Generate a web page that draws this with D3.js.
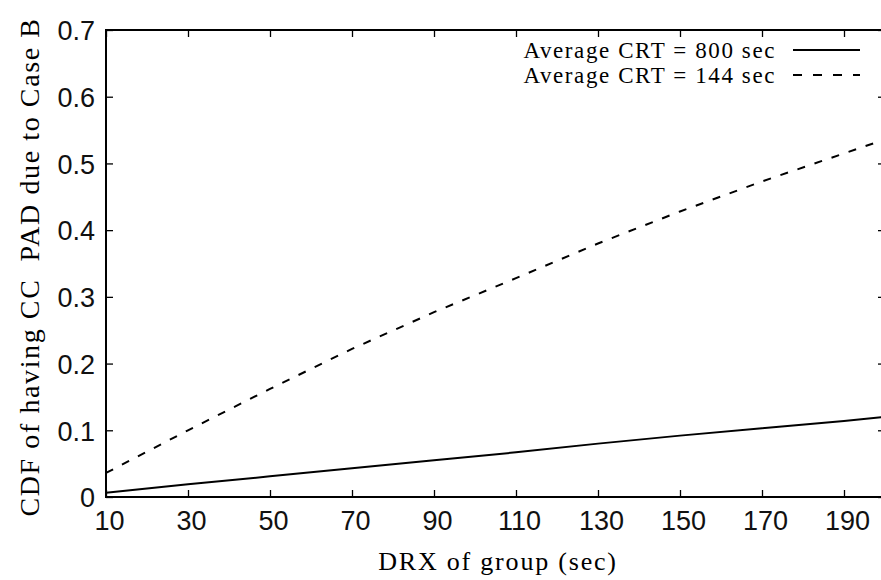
<!DOCTYPE html>
<html>
<head>
<meta charset="utf-8">
<script src="https://cdn.jsdelivr.net/npm/d3@7"></script>
<style>
  body { margin: 0; background: #fff; }
  svg { display: block; }
</style>
</head>
<body>
<svg id="chart" width="881" height="580"></svg>
<script>
//chart values
const drx = [10, 30, 50, 70, 90, 110, 130, 150, 170, 190, 200];
const crt800 = [0.0065, 0.019, 0.031, 0.043, 0.055, 0.067, 0.080, 0.092, 0.103, 0.114, 0.120];
const crt144 = [0.036, 0.100, 0.162, 0.222, 0.277, 0.328, 0.380, 0.428, 0.473, 0.515, 0.536];
const xTicks = [10, 30, 50, 70, 90, 110, 130, 150, 170, 190];
const yTicks = [0, 0.1, 0.2, 0.3, 0.4, 0.5, 0.6, 0.7];
const series = [
  { name: "Average CRT = 800 sec", values: crt800, dash: null },
  { name: "Average CRT = 144 sec", values: crt144, dash: "8,10" }
];

//plot box
const boxLeft = 106, boxRight = 885, boxTop = 30, boxBottom = 497;
const svg = d3.select("#chart");

const x = d3.scaleLinear().domain([10, 200]).range([boxLeft, boxRight]);
const y = d3.scaleLinear().domain([0, 0.7]).range([boxBottom, boxTop]);

const tickFont = "27px 'Liberation Sans', Arial, sans-serif";
const serif = "'Liberation Serif', 'Times New Roman', serif";

//axes with inward ticks on all sides
const bottomAxis = svg.append("g")
  .attr("transform", `translate(0, ${boxBottom})`)
  .call(d3.axisBottom(x).tickValues(xTicks).tickSizeInner(-7).tickSizeOuter(0).tickPadding(11));
const leftAxis = svg.append("g")
  .attr("transform", `translate(${boxLeft}, 0)`)
  .call(d3.axisLeft(y).tickValues(yTicks).tickSizeInner(-7).tickSizeOuter(0).tickPadding(11)
    .tickFormat(d => d === 0 ? "0" : d3.format(".1f")(d)));
svg.append("g")
  .attr("transform", `translate(0, ${boxTop})`)
  .call(d3.axisTop(x).tickValues(xTicks).tickSizeInner(-7).tickSizeOuter(0).tickFormat(""));
svg.append("g")
  .attr("transform", `translate(${boxRight}, 0)`)
  .call(d3.axisRight(y).tickValues(yTicks).tickSizeInner(-7).tickSizeOuter(0).tickFormat(""));

svg.selectAll(".domain").remove();
svg.selectAll(".tick line").attr("stroke", "#000").attr("stroke-width", 1.3);
svg.selectAll(".tick text").style("font", tickFont).attr("fill", "#111");
bottomAxis.selectAll(".tick text").attr("dy", "0.8em").attr("dx", 3);
leftAxis.selectAll(".tick text").attr("dy", "0.36em");

//border
svg.append("rect")
  .attr("x", boxLeft).attr("y", boxTop)
  .attr("width", boxRight - boxLeft).attr("height", boxBottom - boxTop)
  .attr("fill", "none").attr("stroke", "#000").attr("stroke-width", 2);

//lines
const line = d3.line()
  .x((d, i) => x(drx[i]))
  .y(d => y(d));

svg.selectAll(".series")
  .data(series)
  .enter()
  .append("path")
  .attr("class", "series")
  .attr("d", d => line(d.values))
  .attr("fill", "none")
  .attr("stroke", "#000")
  .attr("stroke-width", 2)
  .attr("stroke-dasharray", d => d.dash);

//legend
const legend = svg.append("g");
series.forEach((s, i) => {
  const ly = 58 + i * 25;
  legend.append("text")
    .attr("x", 776).attr("y", ly)
    .attr("text-anchor", "end")
    .style("font", `23px ${serif}`)
    .style("letter-spacing", "1.6px")
    .text(s.name);
  legend.append("line")
    .attr("x1", 793).attr("x2", 860)
    .attr("y1", ly - 8).attr("y2", ly - 8)
    .attr("stroke", "#000").attr("stroke-width", 2)
    .attr("stroke-dasharray", s.dash ? "9,11" : null);
});

//axis titles
svg.append("text")
  .attr("x", 498).attr("y", 570)
  .attr("text-anchor", "middle")
  .style("font", `26px ${serif}`)
  .style("letter-spacing", "1.8px")
  .text("DRX of group (sec)");

svg.append("text")
  .attr("transform", "translate(39, 267) rotate(-90)")
  .attr("text-anchor", "middle")
  .style("font", `28px ${serif}`)
  .style("letter-spacing", "1.6px")
  .style("white-space", "pre")
  .text("CDF of having CC  PAD due to Case B");
</script>
</body>
</html>
